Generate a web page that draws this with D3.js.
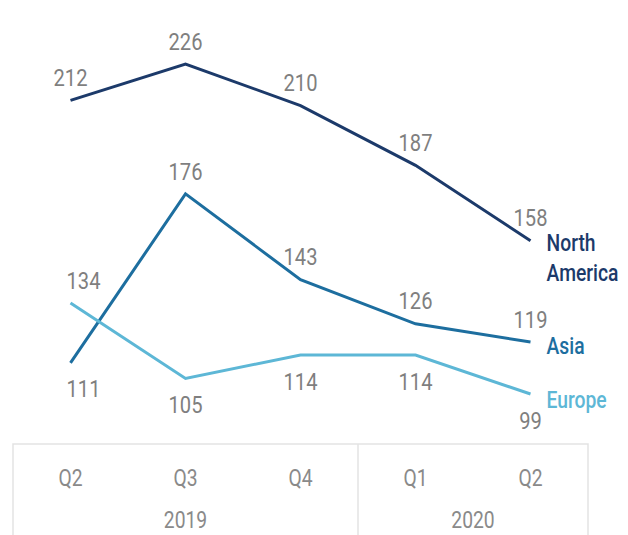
<html>
<head>
  <meta charset="UTF-8">
  <script src="https://d3js.org/d3.v7.min.js"></script>
  <style>
    body { margin: 0; background: #fff; }
    text { font-family: Roboto, "Liberation Sans", sans-serif; }
  </style>
</head>
<body>
  <svg id="chart" width="628" height="535"></svg>
  <script>
    const quarters = ["Q2", "Q3", "Q4", "Q1", "Q2 "];
    const years = [{ label: "2019", from: 0, to: 2 }, { label: "2020", from: 3, to: 4 }];
    const northAmerica = [212, 226, 210, 187, 158];
    const asia = [111, 176, 143, 126, 119];
    const europe = [134, 105, 114, 114, 99];
    // where the value label goes: 1 above, -1 below
    const naSide = [1, 1, 1, 1, 1];
    const asiaSide = [-1, 1, 1, 1, 1];
    const europeSide = [1, -1, -1, -1, -1];

    const series = [
      { name: ["North", "America"], values: northAmerica, side: naSide, color: "#1c3a6a", labelY: 2 },
      { name: ["Asia"], values: asia, side: asiaSide, color: "#1d6e9f", labelY: 4 },
      { name: ["Europe"], values: europe, side: europeSide, color: "#5db7d6", labelY: 6 }
    ];

    const svg = d3.select("#chart");
    const squeeze = 0.84;

    const x = d3.scaleBand(quarters, [13, 588]).padding(0);
    const cx = i => x(quarters[i]) + x.bandwidth() / 2;
    const y = d3.scaleLinear([99, 226], [394, 64]);

    function label(g, px, py, txt, color, size, anchor, weight) {
      g.append("text")
        .attr("transform", `translate(${px},${py}) scale(${squeeze},1)`)
        .attr("text-anchor", anchor || "middle")
        .attr("dy", "0.36em")
        .attr("fill", color)
        .style("font-size", size + "px")
        .style("font-weight", weight || 400)
        .text(txt);
    }

    // category table under the chart
    const table = svg.append("g");
    table.append("path")
      .attr("d", `M${x.range()[0]},536V444H${x.range()[1]}V536`)
      .attr("fill", "none")
      .attr("stroke", "#e3e3e3")
      .attr("stroke-width", 1.5);
    table.append("line")
      .attr("x1", x(quarters[3])).attr("x2", x(quarters[3]))
      .attr("y1", 444).attr("y2", 536)
      .attr("stroke", "#e3e3e3")
      .attr("stroke-width", 1.5);

    quarters.forEach((q, i) => label(table, cx(i), 478, q.trim(), "#8a8a8a", 23));
    years.forEach(yr => label(table, (cx(yr.from) + cx(yr.to)) / 2, 520, yr.label, "#8a8a8a", 23));

    const line = d3.line()
      .x((d, i) => cx(i))
      .y(d => y(d));

    series.forEach(s => {
      const g = svg.append("g");
      g.append("path")
        .attr("d", line(s.values))
        .attr("fill", "none")
        .attr("stroke", s.color)
        .attr("stroke-width", 3);

      s.values.forEach((v, i) => {
        const neighbour = i === 0 ? s.values[1] : null;
        // nudge the first label sideways when the line heads past it
        let dx = 0;
        if (i === 0 && ((s.side[i] > 0 && neighbour < v) || (s.side[i] < 0 && neighbour > v))) dx = 13;
        const py = s.side[i] > 0 ? y(v) - 23 : y(v) + 26;
        label(g, cx(i) + dx, py, v, "#7f7f7f", 24);
      });

      const last = s.values.length - 1;
      s.name.forEach((n, k) => {
        label(g, cx(last) + 16, y(s.values[last]) + s.labelY + k * 30, n, s.color, 23, "start", 500);
      });
    });
  </script>
</body>
</html>
